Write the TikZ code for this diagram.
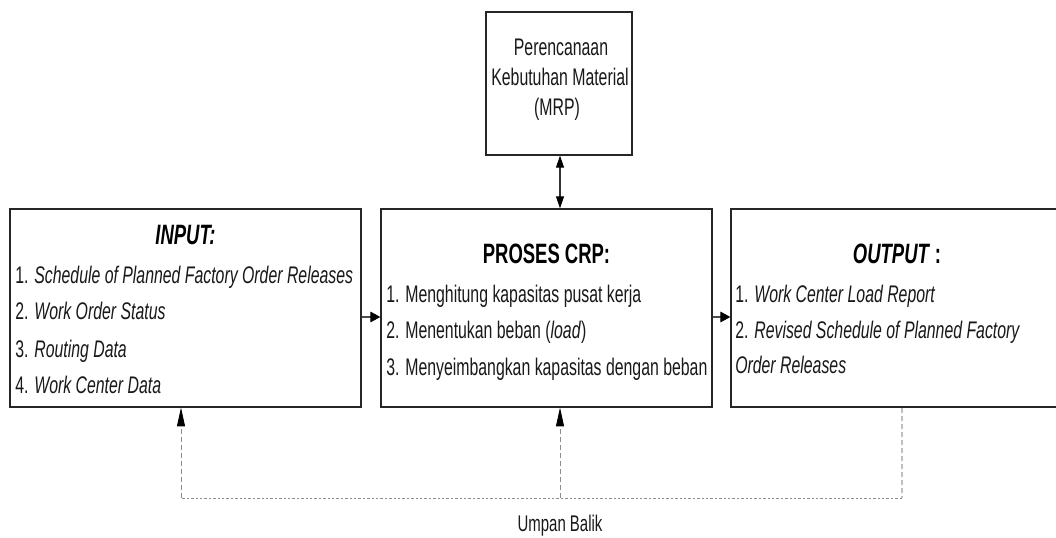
\documentclass[tikz,border=0pt]{standalone}
\usepackage{fontspec}
\setmainfont{Liberation Sans}[FakeStretch=0.66]
\usetikzlibrary{arrows.meta,calc}

\tikzset{
  box/.style={draw=black!85, line width=1pt, fill=white, inner sep=0pt},
  item/.style={anchor=base west, inner sep=0pt, text=black!90,
    font=\fontsize{18pt}{21pt}\selectfont},
  mrptext/.style={anchor=base, inner sep=0pt, text=black!90,
    font=\fontsize{18pt}{21pt}\selectfont},
  head/.style={anchor=base, inner sep=0pt, text=black,
    font=\fontsize{21pt}{24pt}\selectfont\bfseries},
  flow/.style={draw=black!70, line width=0.8pt,
    -{Triangle[length=7.5pt,width=8pt,color=black]}},
  both/.style={draw=black!80, line width=0.8pt,
    {Triangle[length=9pt,width=6pt,color=black]}-{Triangle[length=9pt,width=6pt,color=black]}},
  fbup/.style={draw=black!45, line width=0.6pt, dash pattern=on 4pt off 2pt,
    -{Triangle[length=14pt,width=6pt,color=black]}},
  fbbase/.style={draw=black!45, line width=0.6pt, dash pattern=on 1.8pt off 1.5pt},
  fbside/.style={draw=black!25, line width=1.3pt, dash pattern=on 4pt off 2pt},
}

\begin{document}
\begin{tikzpicture}[x=0.75pt, y=-0.75pt]
  \useasboundingbox (0,0) rectangle (1056,538);
  \clip (0,0) rectangle (1056,538);

  % the four boxes
  \node[box, minimum width=146*0.75pt, minimum height=143*0.75pt] (mrp) at (559,83.5) {};
  \node[box, minimum width=351*0.75pt, minimum height=198*0.75pt] (inp) at (185.5,308) {};
  \node[box, minimum width=331*0.75pt, minimum height=198*0.75pt] (proc) at (546.5,308) {};
  \node[box, minimum width=332*0.75pt, minimum height=198*0.75pt] (out) at (897,308) {};

  % MRP box text
  \node[mrptext] (mrp1) at (561,56) {Perencanaan};
  \node[mrptext] (mrp2) at (560,86) {Kebutuhan Material};
  \node[mrptext] (mrp3) at (557,116) {(MRP)};

  % input box text
  \node[head] (inh) at (185.5,245) {\itshape INPUT:};
  \node[item] (in1) at (15,283) {1. \textit{Schedule of Planned Factory Order Releases}};
  \node[item] (in2) at (15,320) {2. \textit{Work Order Status}};
  \node[item] (in3) at (15,357) {3. \textit{Routing Data}};
  \node[item] (in4) at (15,393) {4. \textit{Work Center Data}};

  % process box text
  \node[head] (prh) at (546.5,264) {PROSES CRP:};
  \node[item] (pr1) at (386,302) {1. Menghitung kapasitas pusat kerja};
  \node[item] (pr2) at (386,338) {2. Menentukan beban (\textit{load})};
  \node[item] (pr3) at (386,375) {3. Menyeimbangkan kapasitas dengan beban};

  % output box text
  \node[head] (ouh) at (897,263) {\textit{OUTPUT}\,:};
  \node[item] (ou1) at (735,302) {1. \textit{Work Center Load Report}};
  \node[item] (ou2) at (735,338) {2. \textit{Revised Schedule of Planned Factory}};
  \node[item] (ou3) at (735,373) {\textit{Order Releases}};

  % main flow
  \draw[both] (mrp.south -| 560,0) -- (proc.north -| 560,0);
  \draw[flow] ($(inp.east)+(0,9)$) -- ($(proc.west)+(0,9)$);
  \draw[flow] ($(proc.east)+(0,9)$) -- ($(out.west)+(0,9)$);

  % feedback loop
  \coordinate (fbL) at (181,498);
  \coordinate (fbM) at (560,498);
  \coordinate (fbR) at (902,498);
  \draw[fbside] (out.south -| fbR) -- (fbR);
  \draw[fbbase] (fbR) -- (fbL);
  \draw[fbup] (fbL) -- (inp.south -| fbL);
  \draw[fbup] (fbM) -- (proc.south -| fbM);
  \node[anchor=base, inner sep=0pt, text=black!90, font=\fontsize{17pt}{20pt}\selectfont] (fblabel) at (560,531) {Umpan Balik};
\end{tikzpicture}
\end{document}
